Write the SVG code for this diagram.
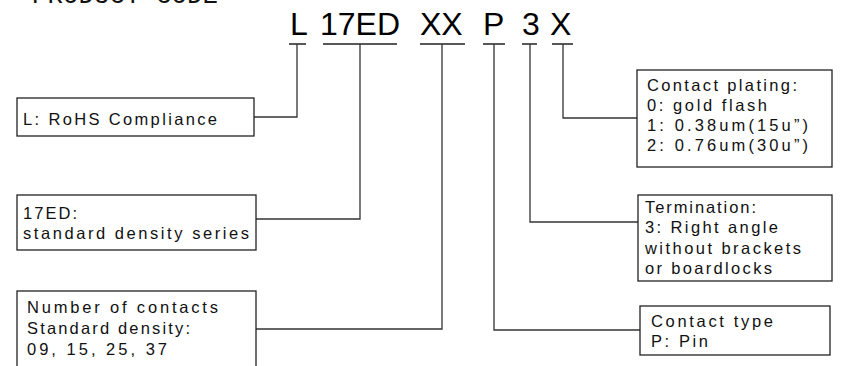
<svg xmlns="http://www.w3.org/2000/svg" width="843" height="366" viewBox="0 0 843 366">
<style>
.bg{fill:#fff}
.box{fill:#fff;stroke:#222;stroke-width:1.3}
.lbl{font-family:"Liberation Sans",Arial,sans-serif;font-size:16.5px;fill:#111}
.code{font-family:"Liberation Sans",Arial,sans-serif;font-size:32px;fill:#000}
.title{font-family:"Liberation Mono","Courier New",monospace;font-size:25px;fill:#111}
.ul{stroke:#222;stroke-width:1.4;fill:none}
.ln{stroke:#333;stroke-width:1.3;fill:none}
</style>
<rect class="bg" x="0" y="0" width="843" height="366"/>
<text class="title" x="32" y="3" textLength="186" lengthAdjust="spacingAndGlyphs">PRODUCT CODE</text>
<g id="code">
<text class="code" x="290" y="35">L</text>
<text class="code" x="320" y="35">17ED</text>
<text class="code" x="420" y="35">XX</text>
<text class="code" x="483" y="35">P</text>
<text class="code" x="522" y="35">3</text>
<text class="code" x="550" y="35">X</text>
</g>
<g id="connectors">
<path class="ul" d="M289 44H306M323 44H397M420 44H465M483 44H505M522 44H537M552 44H573"/>
<path class="ln" d="M297 44V117H254"/>
<path class="ln" d="M360 44V219H256"/>
<path class="ln" d="M442 44V329H256"/>
<path class="ln" d="M494 44V330H640"/>
<path class="ln" d="M530 44V222H638"/>
<path class="ln" d="M563 44V118H637"/>
</g>
<g id="node-rohs">
<rect class="box" x="17" y="98" width="237" height="38"/>
<text class="lbl" x="23" y="125" textLength="194" lengthAdjust="spacing">L: RoHS Compliance</text>
</g>
<g id="node-series">
<rect class="box" x="17" y="195" width="239" height="55"/>
<text class="lbl" x="23" y="219" textLength="54" lengthAdjust="spacing">17ED:</text>
<text class="lbl" x="23" y="239" textLength="226" lengthAdjust="spacing">standard density series</text>
</g>
<g id="node-contacts">
<rect class="box" x="17" y="291" width="239" height="90"/>
<text class="lbl" x="27" y="313" textLength="191" lengthAdjust="spacing">Number of contacts</text>
<text class="lbl" x="27" y="334" textLength="163" lengthAdjust="spacing">Standard density:</text>
<text class="lbl" x="27" y="355" textLength="140" lengthAdjust="spacing">09, 15, 25, 37</text>
</g>
<g id="node-plating">
<rect class="box" x="637" y="70" width="195" height="97"/>
<text class="lbl" x="647" y="91" textLength="150" lengthAdjust="spacing">Contact plating:</text>
<text class="lbl" x="647" y="111" textLength="120" lengthAdjust="spacing">0:  gold  flash</text>
<text class="lbl" x="647" y="131" textLength="161" lengthAdjust="spacing">1:  0.38um(15u”)</text>
<text class="lbl" x="647" y="151" textLength="161" lengthAdjust="spacing">2:  0.76um(30u”)</text>
</g>
<g id="node-termination">
<rect class="box" x="638" y="195" width="194" height="86"/>
<text class="lbl" x="645" y="213" textLength="111" lengthAdjust="spacing">Termination:</text>
<text class="lbl" x="645" y="233" textLength="133" lengthAdjust="spacing">3: Right angle</text>
<text class="lbl" x="645" y="254" textLength="156" lengthAdjust="spacing">without brackets</text>
<text class="lbl" x="645" y="274" textLength="127" lengthAdjust="spacing">or boardlocks</text>
</g>
<g id="node-type">
<rect class="box" x="640" y="306" width="190" height="49"/>
<text class="lbl" x="651" y="327" textLength="122" lengthAdjust="spacing">Contact type</text>
<text class="lbl" x="651" y="347" textLength="57" lengthAdjust="spacing">P: Pin</text>
</g>
</svg>
